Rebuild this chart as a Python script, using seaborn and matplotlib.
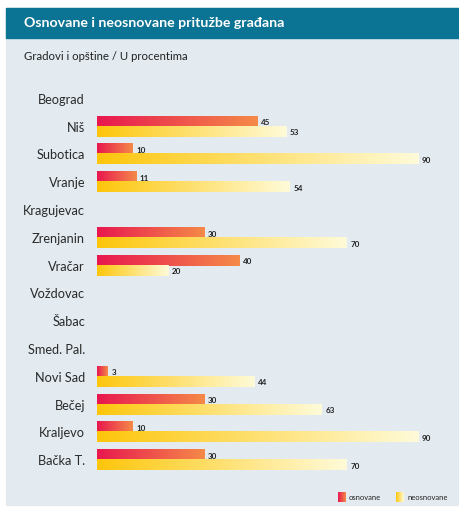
import numpy as np
import pandas as pd
import seaborn as sns
import matplotlib.pyplot as plt
from matplotlib.colors import LinearSegmentedColormap
from matplotlib.patches import Rectangle

gradovi = ["Beograd", "Niš", "Subotica", "Vranje", "Kragujevac", "Zrenjanin", "Vračar",
           "Voždovac", "Šabac", "Smed. Pal.", "Novi Sad", "Bečej", "Kraljevo", "Bačka T."]
osnovane = [np.nan, 45, 10, 11, np.nan, 30, 40, np.nan, np.nan, np.nan, 3, 30, 10, 30]
neosnovane = [np.nan, 53, 90, 54, np.nan, 70, 20, np.nan, np.nan, np.nan, 44, 63, 90, 70]
serije = ["osnovane", "neosnovane"]

df = pd.DataFrame({"grad": gradovi, "osnovane": osnovane, "neosnovane": neosnovane})
df_long = df.melt(id_vars="grad", var_name="tip", value_name="vrednost")

cmaps = {
    "osnovane": LinearSegmentedColormap.from_list("o", ["#e8174f", "#f58a48"]),
    "neosnovane": LinearSegmentedColormap.from_list("n", ["#fdc60b", "#fffbd9"]),
}

sns.set_style("white")
plt.rcParams["font.family"] = ["Lato", "DejaVu Sans"]

W, H = 460, 508
fig = plt.figure(figsize=(W / 100, H / 100), dpi=100)
fig.patch.set_facecolor("white")

# panel + title bar
fig.patches.append(Rectangle((6 / W, 1 - 505 / H), 454 / W, 497 / H, transform=fig.transFigure,
                             color="#e3ebf1", zorder=-2))
fig.patches.append(Rectangle((6 / W, 1 - 38 / H), 454 / W, 30 / H, transform=fig.transFigure,
                             color="#0b7393", zorder=-1))
fig.text(24 / W, 1 - 23 / H, "Osnovane i neosnovane pritužbe građana", color="white",
         fontsize=10.2, fontweight="bold", va="center", ha="left")
fig.text(24 / W, 1 - 57 / H, "Gradovi i opštine / U procentima", color="#222222",
         fontsize=8.2, va="center", ha="left")

# axes: 0 -> x=97px, 100 -> 454px ; rows 99px .. 460px
ax = fig.add_axes([97 / W, 1 - 474 / H, 357 / W, 389 / H])
ax.set_zorder(2)
ax.patch.set_alpha(0)

sns.barplot(data=df_long, y="grad", x="vrednost", hue="tip", order=gradovi,
            hue_order=serije, orient="h", width=0.72, legend=False,
            palette=["#e8174f", "#fdc60b"], ax=ax)

grad = np.linspace(0, 1, 256).reshape(1, -1)
for cont, s in zip(ax.containers, serije):
    for bar in cont:
        w = bar.get_width()
        if not np.isfinite(w) or w == 0:
            continue
        x0, y0, h = bar.get_x(), bar.get_y(), bar.get_height()
        bar.set_visible(False)
        ax.imshow(grad, cmap=cmaps[s], aspect="auto", extent=[x0, x0 + w, y0 + h, y0],
                  zorder=2, interpolation="bilinear")
        ax.text(x0 + w + 1, y0 + h * 0.62, f"{w:.0f}", fontsize=5.8, fontweight="bold",
                color="#222222", va="center", ha="left")

ax.set_xlim(0, 100)
ax.set_ylim(len(gradovi) - 0.5, -0.5)
ax.set_xlabel("")
ax.set_ylabel("")
ax.set_xticks([])
ax.tick_params(axis="y", length=0, pad=8.6, labelsize=9.2, labelcolor="#2a2a2a")
sns.despine(ax=ax, left=True, bottom=True)

# legend
for (lx, tx, s) in [(338, 349, "osnovane"), (396, 408, "neosnovane")]:
    lax = fig.add_axes([lx / W, 1 - 502 / H, 8 / W, 10 / H])
    lax.set_zorder(2)
    lax.imshow(grad, cmap=cmaps[s], aspect="auto", extent=[0, 1, 0, 1])
    lax.axis("off")
    fig.text(tx / W, 1 - 498 / H, s, fontsize=5.5, color="#222222", va="center", ha="left")

fig.savefig("out.png", dpi=100)
